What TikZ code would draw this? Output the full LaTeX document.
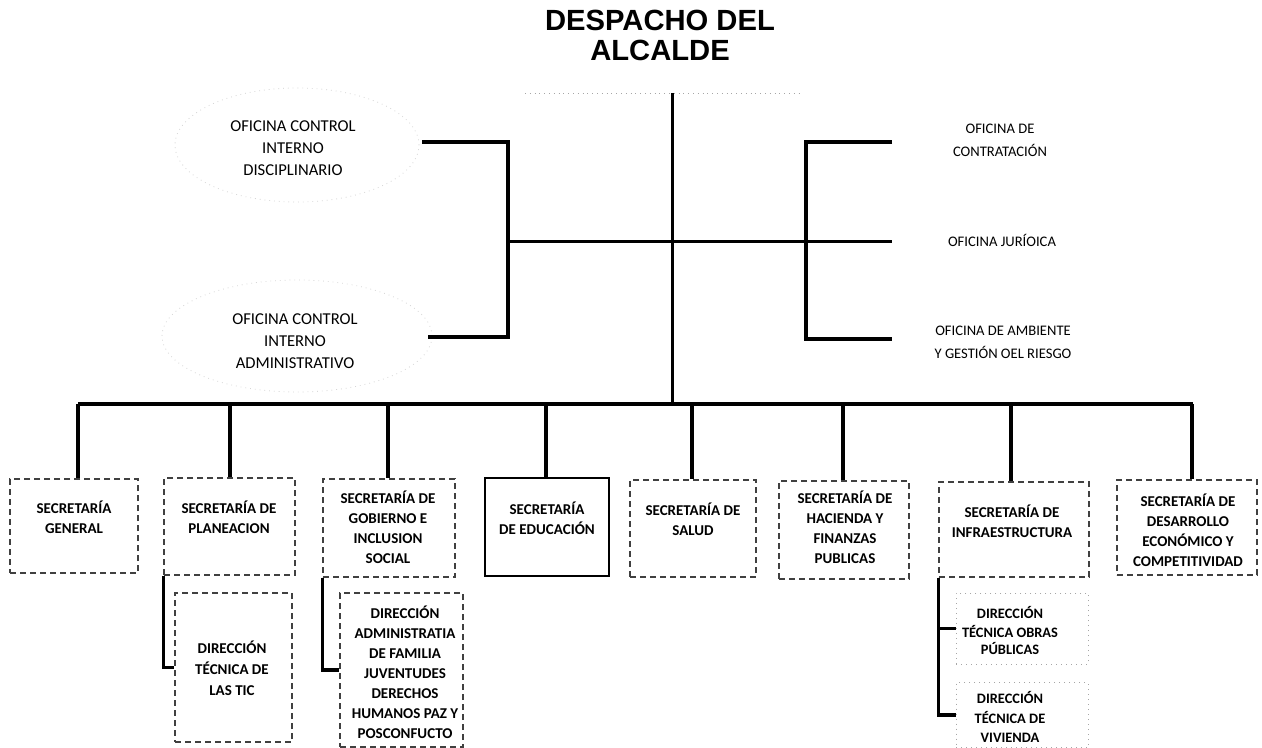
\documentclass[tikz,border=0pt]{standalone}
\usepackage{fontspec}
\setmainfont{Carlito}
\newfontfamily\titlefont{Liberation Sans}
\usetikzlibrary{shapes.geometric}
\begin{document}
\begin{tikzpicture}[x=0.5pt,y=-0.5pt,
  conn/.style={line width=1.9pt},
  connthin/.style={line width=1.5pt},
  secbox/.style={draw=black!75, line width=0.6pt, densely dashed, inner sep=0pt},
  solidbox/.style={draw=black, line width=0.9pt, inner sep=0pt},
  faintbox/.style={draw=black!35, line width=0.5pt, dotted, inner sep=0pt},
  sectext/.style={font=\fontsize{7.5}{10}\selectfont\bfseries, align=center, inner sep=0pt},
  subtext/.style={font=\fontsize{7.5}{9.5}\selectfont\bfseries, align=center, inner sep=0pt},
  offtext/.style={font=\fontsize{8.3}{11}\selectfont, align=center, inner sep=0pt},
  offtextr/.style={font=\fontsize{7.3}{11.5}\selectfont, align=center, inner sep=0pt},
  offell/.style={ellipse, draw=black!16, line width=0.4pt, dotted, inner sep=0pt},
  titletext/.style={font=\titlefont\fontsize{14.6}{15}\selectfont\bfseries, align=center, inner sep=0pt}
]
\useasboundingbox[fill=white] (0,0) rectangle (1262,748);

% title
\node[titletext] (title) at (660,35) {DESPACHO DEL\\ALCALDE};
\coordinate (tl) at (525,93);
\coordinate (tr) at (800,93);
\draw[black!35, dotted, line width=0.4pt] (tl) -- (tr);

% main spine
\coordinate (mtop) at (672,93);
\coordinate (mbot) at (672,404);
\draw[connthin] (mtop) -- (mbot);

% staff offices
\node[offell, minimum width=122pt, minimum height=57pt] (ellA) at (297,145) {};
\node[offell, minimum width=135pt, minimum height=56pt] (ellB) at (297,336) {};
\node[offtext] (oci) at (293,148) {OFICINA CONTROL\\INTERNO\\DISCIPLINARIO};
\node[offtext] (oca) at (295,341) {OFICINA CONTROL\\INTERNO\\ADMINISTRATIVO};
\node[offtextr] (ocon) at (1000,140) {OFICINA DE\\CONTRATACIÓN};
\node[offtextr] (ojur) at (1002,240) {OFICINA JURÍOICA};
\node[offtextr] (oamb) at (1003,342) {OFICINA DE AMBIENTE\\Y GESTIÓN OEL RIESGO};

\coordinate (lbT) at (508,142);
\coordinate (lbB) at (508,337);
\coordinate (rbT) at (806,142);
\coordinate (rbB) at (806,339);
\coordinate (lmid) at (508,242);
\coordinate (rmid) at (892,242);
\coordinate (ociE) at (422,142);
\coordinate (ocaE) at (428,337);
\coordinate (oconW) at (892,142);
\coordinate (oambW) at (892,339);
\draw[connthin] (lmid) -- (rmid);
\draw[conn] (ociE) -- (lbT) -- (lbB) -- (ocaE);
\draw[conn] (oconW) -- (rbT) -- (rbB) -- (oambW);

% secretarias
\node[secbox, minimum width=64pt, minimum height=47pt] (gen) at (74,526) {};
\node[secbox, minimum width=65.5pt, minimum height=48.5pt] (plan) at (229.5,526.5) {};
\node[secbox, minimum width=66pt, minimum height=49pt] (gob) at (389,528) {};
\node[solidbox, minimum width=62pt, minimum height=49pt] (edu) at (547,527) {};
\node[secbox, minimum width=63pt, minimum height=48.5pt] (sal) at (693,528.5) {};
\node[secbox, minimum width=65pt, minimum height=49pt] (hac) at (844,530) {};
\node[secbox, minimum width=75pt, minimum height=47.5pt] (inf) at (1014,529.5) {};
\node[secbox, minimum width=70pt, minimum height=47.5pt] (des) at (1187,527.5) {};

\node[sectext] (gent) at (74,517) {SECRETARÍA\\GENERAL};
\node[sectext] (plant) at (229,517) {SECRETARÍA DE\\PLANEACION};
\node[sectext] (gobt) at (388,527) {SECRETARÍA DE\\GOBIERNO E\\INCLUSION\\SOCIAL};
\node[sectext] (edut) at (547,518) {SECRETARÍA\\DE EDUCACIÓN};
\node[sectext] (salt) at (693,519) {SECRETARÍA DE\\SALUD};
\node[sectext] (hact) at (845,527) {SECRETARÍA DE\\HACIENDA Y\\FINANZAS\\PUBLICAS};
\node[sectext] (inft) at (1012,521) {SECRETARÍA DE\\INFRAESTRUCTURA};
\node[sectext] (dest) at (1188,530) {SECRETARÍA DE\\DESARROLLO\\ECONÓMICO Y\\COMPETITIVIDAD};

% bus and drops
\coordinate (busL) at (78,404);
\coordinate (busR) at (1193,404);
\draw[conn] (busL) -- (busR);
\coordinate (d1) at (78,404);
\coordinate (d2) at (230,404);
\coordinate (d3) at (388,404);
\coordinate (d4) at (546,404);
\coordinate (d5) at (692,404);
\coordinate (d6) at (843,404);
\coordinate (d7) at (1011,404);
\coordinate (d8) at (1192,404);
\draw[conn] (d1) -- (d1 |- gen.north);
\draw[conn] (d2) -- (d2 |- plan.north);
\draw[conn] (d3) -- (d3 |- gob.north);
\draw[conn] (d4) -- (d4 |- edu.north);
\draw[conn] (d5) -- (d5 |- sal.north);
\draw[conn] (d6) -- (d6 |- hac.north);
\draw[conn] (d7) -- (d7 |- inf.north);
\draw[conn] (d8) -- (d8 |- des.north);

% direcciones
\node[secbox, minimum width=58.5pt, minimum height=74.5pt] (tic) at (233.5,667.5) {};
\node[secbox, minimum width=61.5pt, minimum height=77pt] (fam) at (401.5,670) {};
\node[faintbox, minimum width=66pt, minimum height=35.5pt] (obr) at (1022,628.5) {};
\node[faintbox, minimum width=66pt, minimum height=32.5pt] (viv) at (1022,715) {};

\node[subtext, font=\fontsize{7.5}{10.5}\selectfont\bfseries] (tict) at (232,668) {DIRECCIÓN\\TÉCNICA DE\\LAS TIC};
\node[subtext, font=\fontsize{7.5}{10}\selectfont\bfseries] (famt) at (405,672) {DIRECCIÓN\\ADMINISTRATIA\\DE FAMILIA\\JUVENTUDES\\DERECHOS\\HUMANOS PAZ Y\\POSCONFUCTO};
\node[subtext, font=\fontsize{7.2}{9}\selectfont\bfseries] (obrt) at (1010,631) {DIRECCIÓN\\TÉCNICA OBRAS\\PÚBLICAS};
\node[subtext, font=\fontsize{7.2}{9.8}\selectfont\bfseries] (vivt) at (1010,717) {DIRECCIÓN\\TÉCNICA DE\\VIVIENDA};

\draw[conn] (plan.south west) -- (plan.south west |- tic.west) -- (tic.west);
\draw[conn] (gob.south west) -- (gob.south west |- fam.west) -- (fam.west);
\draw[conn] (inf.south west) -- (inf.south west |- viv.west) -- (viv.west);
\draw[conn] (inf.south west |- obr.west) -- (obr.west);
\end{tikzpicture}
\end{document}
